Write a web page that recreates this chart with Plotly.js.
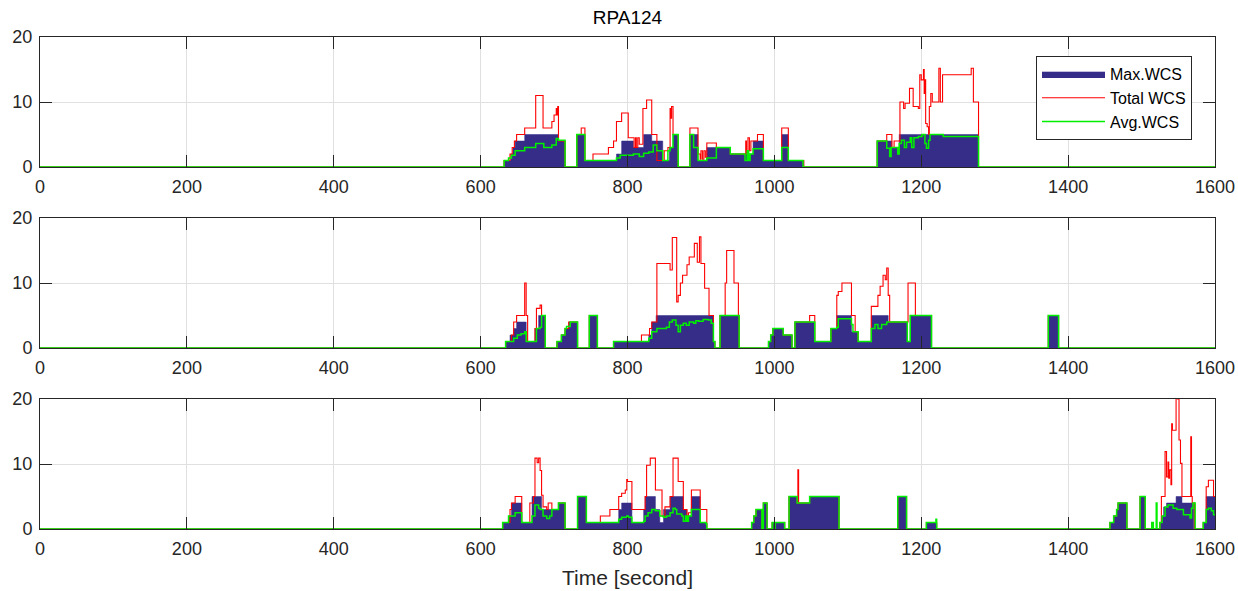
<!DOCTYPE html>
<html><head><meta charset="utf-8">
<script src="https://cdn.plot.ly/plotly-3.0.1.min.js"></script>
<style>html,body{margin:0;padding:0;background:#fff}#chart{width:1238px;height:591px}</style>
</head><body><div id="chart"></div>
<script>
// ---------- Data (time in seconds, values) ----------
const seriesNames = ['Max.WCS', 'Total WCS', 'Avg.WCS'];
const xTicks = [0, 200, 400, 600, 800, 1000, 1200, 1400, 1600];
const yTicks = [0, 10, 20];

// Panel 1
const p1MaxT = [0, 632,641,644,647,660,706,715, 731,742,785,792,808,822,833,848,857,862,869, 885,896,908,940,971,985,1010,1019,1040, 1140,1160,1170,1278, 1600];
const p1MaxV = [0, 1,2,3,4,5,4,0, 5,1,2,4,3,5,4,1,3,5,0, 5,1,3,2,4,1,5,1,0, 4,3,5,0, 0];
const p1TotT = [0, 632,640,643,646,649,660,675,685,697,700,703,704,705,706,715,
  731,737,742,753,774,781,785,792,801,808,809,811,812,814,816,821,826,833,840,850,855,858,859,860,862,869,
  885,896,899,900,902,904,906,908,921,940,961,962,964,966,968,977,985,1010,1019,1040,
  1140,1153,1160,1163,1171,1176,1178,1184,1187,1189,1196,1198,1200,1203,1204,1205,1206,1208,1210,1211,1213,1215,1223,1224,1226,1229,1266,1268,1271,1278, 1600];
const p1TotV = [0, 1,2,3,4,5,6,11,6,7,8,9,8,9.3,4,0,
  5,6,1,2,3,4,7,8.3,4.5,4.5,3,4.5,3,4.5,3.5,9,10.3,5,1,2.5,3,9,7.5,9.3,5,0,
  6,2,1.2,2.5,1.2,2.5,1.5,3.7,3,2,4,2,4.5,2.5,4,5,1,6,1,0,
  4,5,3,4,10,9,9.8,12.1,12.1,9.3,9,14.2,13.4,15,11.3,13.4,6.7,6.2,5,9.3,11.3,10,10,15.2,10,14.2,14.2,15.2,10,0, 0];
const p1AvgT = [0, 632,638,642,647,660,675,686,697,703,706,715,
  731,742,785,790,808,816,822,829,835,840,848,855,858,862,869,
  885,890,896,908,921,940,958,960,963,965,967,971,985,1010,1019,1039,1041,
  1140,1153,1157,1159,1166,1168,1170,1173,1177,1180,1185,1187,1190,1196,1201,1205,1207,1210,1212,1230,1278, 1600];
const p1AvgV = [0, 1,1.4,1.8,2.5,3,3.6,3,3.4,4.4,4.1,0,
  5,1,1.4,1.8,2,1.6,2.1,2.3,3.4,2.5,1,2.5,3,5,0,
  5,3,1,1.4,3,2,2,1,2.5,1,2,2.8,1,3,1,-1,0,
  4,2.9,1.6,3,3,2,3.6,4.1,3,3.8,4.5,3,4.5,4.7,5,3.6,2.9,4.1,5,4.7,0, 0];

// Panel 2
const p2MaxT = [0, 634,640,645,649,662,674,679,688, 704,710,715,720,732, 748,759, 781,829,833,839,917,919, 926,952, 992,995,998,1012,1024,1028,1055,1077,1085,1105,1114,1132,1155,1181,1185,1214, 1373,1387, 1600];
const p2MaxV = [0, 1,2,3,4,1,3,5,0, 1,2,3,4,0, 5,0, 1,2,4,5,1,0, 5,0, 1,2,3,2,0,4,1,3,5,2.5,1,5,4,1,5,0, 5,0, 0];
const p2TotT = [0, 634,642,645,649,660,662,664,674,676,681,683,688,
  704,710,715,720,732, 748,759,
  781,819,830,833,840,857,858,861,866,867,869,872,875,878,881,884,887,891,893,895,898,900,903,905,910,911,917,919,
  926,933,935,944,945,951,952,
  992,995,998,1012,1024,1028,1048,1055,1077,1085,1087,1092,1105,1110,1114,1132,1137,1141,1144,1148,1151,1153,1155,1157,1182,1190,1192,1214,
  1373,1387, 1600];
const p2TotV = [0, 1,2,4,5,10,5,1,3,6.1,6.6,5,0,
  1,2,3,4,0, 5,0,
  1,2,3,4,13,13,12,17,17,7.1,8.1,10,11.2,11.2,12.8,14,14,16.1,16.1,13.2,17.1,13,13,9.2,9.2,5,1,0,
  5,10,15,15,10,5,0,
  1,2,3,2,0,4,5,1,3,8.1,8.7,10,5,2.5,1,6.4,6.4,8.1,9.5,11.2,10.5,12.3,8.1,4,10,10,5,0,
  5,0, 0];
const p2AvgT = [0, 634,645,650,655,660,662,674,676,681,683,688,
  704,710,715,717,722,732, 748,759,
  781,829,833,840,853,857,861,866,869,872,876,880,884,890,893,897,903,910,914,917,919,
  926,952,
  992,995,998,1009,1012,1022,1024,1028,1055,1077,1085,1087,1103,1105,1107,1114,1132,1137,1141,1146,1153,1181,1185,1214,
  1373,1387, 1600];
const p2AvgV = [0, 1,1.5,2,2.2,2.5,1,1,3,3.2,5,0,
  1,2,3,3.3,4,0, 5,0,
  1,1.5,2.5,3,3.2,4,4.3,3.5,2.5,3.5,3.8,3.5,4,3.8,4.2,4.1,4.4,4.3,3.8,1,0,
  5,0,
  1,2,3,3,2,2,0,4,1,3,3.2,4.5,4.5,3.6,2.5,1,3,3.6,3,3.6,4,1,5,0,
  5,0, 0];

// Panel 3
const p3MaxT = [0, 630,638,642,656,670,683,706,715, 732,744,788,792,806,822,824,838,844,849,858,876,881,887,899,908, 969,972,975,983,985,990, 997,1014,1020,1031,1048,1088, 1168,1180, 1207,1221, 1457,1462,1466,1468,1480, 1498,1505, 1514,1516, 1525,1527,1530,1534,1547,1555,1571, 1584,1588,1600];
const p3MaxV = [0, 1,2,4,1,5,3,4,0, 5,1,3,4,1,3,5,3,1,3,5,3,2,5,1,0, 1,2,3,0,4,0, 1,0,5,4,5,0, 5,0, 1,0, 1,2,3,4,0, 5,0, 1,0, 1,2,3.4,4,5,4,0, 1,5,5];
const p3TotT = [0, 630,640,642,647,656,667,672,674,677,679,681,683,685,690,692,697,706,715,
  732,744,763,776,788,792,797,799,800,806,822,824,826,831,835,838,844,847,851,858,862,867,869,874,876,881,883,887,897,899,908,
  969,972,975,983,985,990,
  997,1014,1020,1031,1032,1033,1048,1088,
  1168,1180, 1207,1221, 1457,1462,1466,1468,1480, 1498,1505, 1514,1516,
  1525,1527,1532,1534,1536,1537,1538,1540,1541,1542,1547,1549,1551,1553,1555,1566,1567,1568,1569,1572,
  1584,1588,1591,1596,1598,1600];
const p3TotV = [0, 1,3,4,5,1,4,5,10.9,10.2,10.9,9,5.2,3.4,3,4,3,4,0,
  5,1,2,3,5,5.5,6,7.6,7.3,3,3,5,9.8,10.9,10.9,6,6,2,3.4,5,10.9,10.9,7.3,7.3,3,2,2.5,6,6,3,0,
  1,2,3,0,4,0,
  1,0,5,4,9.1,4,5,0,
  5,0, 1,0, 1,2,3,4,0, 5,0, 1,0,
  1,5,11.9,8,10.3,7.8,9.1,6.8,16.2,15.2,20.5,20,13.7,10.1,5,5,14.2,5,4,0,
  1,6.5,7.5,7.5,5,5];
const p3AvgT = [0, 630,638,647,656,670,674,679,681,685,690,694,697,706,715,
  732,744,788,792,799,801,806,822,824,828,833,838,844,849,853,858,862,865,867,874,876,879,881,883,887,897,899,907,908,909,
  969,972,975,983,985,990,
  997,1000,1001,1014,1020,1031,1048,1088,
  1168,1180, 1207,1220,1221,1222, 1457,1462,1466,1468,1480, 1498,1505, 1514,1516,1520,1521,
  1525,1528,1532,1536,1543,1548,1557,1564,1566,1568,1570,1573,
  1584,1588,1591,1595,1598,1600];
const p3AvgV = [0, 1,2,2.5,1,2,3.7,3.2,3,2,1.6,2,3,4,0,
  5,1,1.5,1.8,2,1.8,1,1.2,2,2.5,3,2.8,2,1.8,2,2.5,3.2,3,2.3,2,1.2,2,1.2,2,3,3,1,0.8,-0.8,0,
  1,2,3,0,4,0,
  1,-0.8,1,0,5,4,5,0,
  5,0, 1,1.5,-0.8,0, 1,2,3,4,0, 5,0, 1,0,4,0,
  1,2,3.4,3.7,3.2,3,2.2,2.2,1.7,3.2,4,0,
  1,3,3.2,2.8,2.2,2.2];

// ---------- Build chart ----------
const FONT = 'Liberation Sans, Arial, Helvetica, sans-serif';
const INK = '#262626';
const BLUE = '#352d87', RED = '#ff0000', GREEN = '#00f000';

const panels = [
  [p1MaxT, p1MaxV, p1TotT, p1TotV, p1AvgT, p1AvgV],
  [p2MaxT, p2MaxV, p2TotT, p2TotV, p2AvgT, p2AvgV],
  [p3MaxT, p3MaxV, p3TotT, p3TotV, p3AvgT, p3AvgV]
];

const traces = [];
panels.forEach((p, i) => {
  const xa = i === 0 ? 'x' : 'x' + (i + 1);
  const ya = i === 0 ? 'y' : 'y' + (i + 1);
  const show = i === 0;
  traces.push({type:'scatter', mode:'lines', x:p[0], y:p[1], xaxis:xa, yaxis:ya,
    name:seriesNames[0], showlegend:show, legendgroup:'max',
    line:{shape:'hv', color:BLUE, width:0.5}, fill:'tozeroy', fillcolor:BLUE, hoverinfo:'skip'});
  traces.push({type:'scatter', mode:'lines', x:p[2], y:p[3], xaxis:xa, yaxis:ya,
    name:seriesNames[1], showlegend:show, legendgroup:'tot',
    line:{shape:'hv', color:RED, width:1.1}, hoverinfo:'skip'});
  traces.push({type:'scatter', mode:'lines', x:p[4], y:p[5], xaxis:xa, yaxis:ya,
    name:seriesNames[2], showlegend:show, legendgroup:'avg',
    line:{shape:'hv', color:GREEN, width:1.5}, hoverinfo:'skip'});
});

const FIG_H = 591, M_TOP = 37, M_BOT = 62;
const PLOT_H = FIG_H - M_TOP - M_BOT;
function dom(t, b) { return [(FIG_H - M_BOT - b) / PLOT_H, (FIG_H - M_BOT - t) / PLOT_H]; }
const rows = [[37,167],[218,348],[399,529]];

function xax(i) {
  return {domain:[0,1], anchor: i===0?'y':'y'+(i+1), range:[0,1600], tickvals:xTicks,
    ticks:'inside', ticklen:12, tickwidth:1, tickcolor:INK,
    showline:true, linecolor:INK, linewidth:1, mirror:'ticks',
    showgrid:true, gridcolor:'#e0e0e0', gridwidth:1, zeroline:false,
    tickfont:{family:FONT, size:18, color:INK}, ticklabelstandoff:3};
}
function yax(i) {
  return {domain:dom(rows[i][0], rows[i][1]), anchor: i===0?'x':'x'+(i+1), range:[0,20], tickvals:yTicks,
    ticks:'inside', ticklen:12, tickwidth:1, tickcolor:INK,
    showline:true, linecolor:INK, linewidth:1, mirror:'ticks',
    showgrid:true, gridcolor:'#e0e0e0', gridwidth:1, zeroline:false,
    tickfont:{family:FONT, size:18, color:INK}, ticklabelstandoff:3};
}

const layout = {
  width:1238, height:591, paper_bgcolor:'#fff', plot_bgcolor:'#fff',
  margin:{l:40, r:23, t:M_TOP, b:M_BOT},
  font:{family:FONT, color:INK},
  title:{text:'RPA124', x:(40+1215)/2/1238, xanchor:'center', y:1-17/591, yanchor:'middle',
    font:{family:FONT, size:19, color:'#000'}},
  showlegend:true,
  legend:{x:(1192-40)/1175, xanchor:'right', y:(529-56)/PLOT_H, yanchor:'top',
    bordercolor:INK, borderwidth:1, bgcolor:'#fff', itemwidth:63, tracegroupgap:0,
    font:{family:FONT, size:16, color:'#000'}},
  xaxis:xax(0), yaxis:yax(0), xaxis2:xax(1), yaxis2:yax(1), xaxis3:xax(2), yaxis3:yax(2)
};
layout.xaxis3.title = {text:'Time [second]', font:{family:FONT, size:21, color:INK}, standoff:12};

Plotly.newPlot('chart', traces, layout, {staticPlot:true, displayModeBar:false});
</script>
</body></html>
